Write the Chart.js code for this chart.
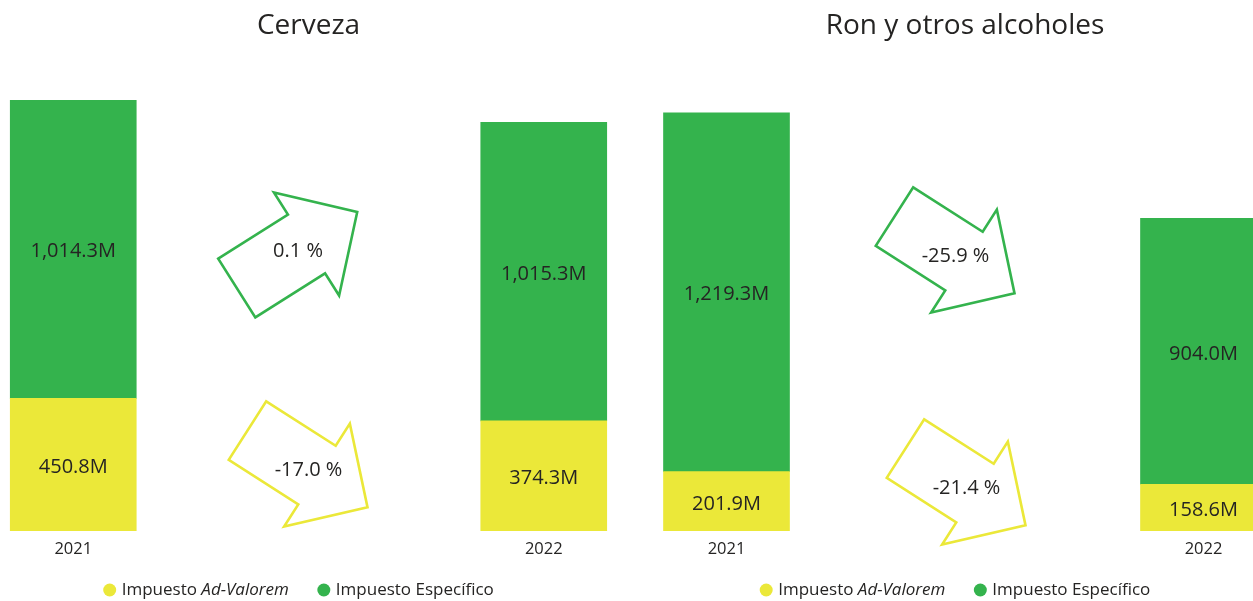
<!DOCTYPE html>
<html>
<head>
<meta charset="utf-8">
<script src="https://cdn.jsdelivr.net/npm/chart.js@4"></script>
<style>
  html, body { margin: 0; padding: 0; overflow: hidden; background: #ffffff; width: 1253px; height: 601px; }
  .panel { position: absolute; top: 0; height: 601px; }
</style>
</head>
<body>
<div class="panel" style="left:-162px;width:941px"><canvas id="c1"></canvas></div>
<div class="panel" style="left:488px;width:954px"><canvas id="c2"></canvas></div>
<script>
// ---------- data ----------
const years = ['2021', '2022'];
const panelTitles = ['Cerveza', 'Ron y otros alcoholes'];
const seriesNames = ['Impuesto Ad-Valorem', 'Impuesto Específico'];
const cervezaAdValorem = [450.8, 374.3];
const cervezaEspecifico = [1014.3, 1015.3];
const ronAdValorem = [201.9, 158.6];
const ronEspecifico = [1219.3, 904.0];
// year-over-year change (%) per series: [Ad-Valorem, Específico]
const cervezaChange = [-17.0, 0.1];
const ronChange = [-21.4, -25.9];

// ---------- style / layout ----------
const FONT = "'Segoe UI', 'Open Sans', sans-serif";
const TEXT = '#252423';
const seriesColors = ['#EBE839', '#34B34D'];
const italicAfterFirstWord = [true, false];
const arrowLayout = [
  [ { series: 1, dx: -11.5, cy: 250 }, { series: 0, dx: -1, cy: 469 } ],
  [ { series: 1, dx: -10.5, cy: 255 }, { series: 0, dx: 0.5, cy: 487 } ]
];

const allTotals = [0, 1].map(i => cervezaAdValorem[i] + cervezaEspecifico[i])
  .concat([0, 1].map(i => ronAdValorem[i] + ronEspecifico[i]));
const yMax = Math.max(...allTotals);

const fmtM = v => v.toLocaleString('en-US', { minimumFractionDigits: 1, maximumFractionDigits: 1 }) + 'M';
const fmtPct = v => v.toFixed(1) + ' %';

function arrowPath(ctx, cx, cy, angleDeg) {
  const L = 142.5, headL = 60, shaftHW = 34.75, headHW = 61;
  const h = L / 2, b = h - headL;
  const pts = [[-h, -shaftHW], [b, -shaftHW], [b, -headHW], [h, 0], [b, headHW], [b, shaftHW], [-h, shaftHW]];
  const a = angleDeg * Math.PI / 180, c = Math.cos(a), s = Math.sin(a);
  ctx.beginPath();
  pts.forEach(([u, v], i) => {
    const x = cx + u * c - v * s, y = cy + u * s + v * c;
    if (i === 0) ctx.moveTo(x, y); else ctx.lineTo(x, y);
  });
  ctx.closePath();
}

const decorPlugin = {
  id: 'decor',
  afterDatasetsDraw(chart, args, opts) {
    const ctx = chart.ctx;
    const area = chart.chartArea;
    const midX = (area.left + area.right) / 2;
    ctx.save();
    // data labels
    ctx.font = `20px ${FONT}`;
    ctx.fillStyle = TEXT;
    ctx.textAlign = 'center';
    ctx.textBaseline = 'middle';
    chart.data.datasets.forEach((ds, di) => {
      chart.getDatasetMeta(di).data.forEach((bar, i) => {
        const p = bar.getProps(['x', 'y', 'base'], true);
        ctx.fillText(fmtM(ds.data[i]), p.x, (p.y + p.base) / 2 + 2.5);
      });
    });
    // arrows with change labels
    opts.arrows.forEach(ar => {
      const change = opts.changes[ar.series];
      const cx = midX + ar.dx, cy = ar.cy;
      ctx.lineWidth = 2.6;
      ctx.lineJoin = 'miter';
      ctx.strokeStyle = seriesColors[ar.series];
      arrowPath(ctx, cx, cy, change >= 0 ? -32.3 : 32.6);
      ctx.stroke();
      ctx.fillStyle = TEXT;
      ctx.font = `20px ${FONT}`;
      ctx.fillText(fmtPct(change), cx + 1, cy + 1);
    });
    // legend
    const ly = 590, r = 6.5, gapText = 12, gapItem = 35, fs = 17;
    const items = seriesNames.map((name, i) => {
      const sp = name.indexOf(' ');
      const parts = italicAfterFirstWord[i]
        ? [{ t: name.slice(0, sp + 1), it: false }, { t: name.slice(sp + 1), it: true }]
        : [{ t: name, it: false }];
      let w = 0;
      parts.forEach(pt => { ctx.font = `${pt.it ? 'italic ' : ''}${fs}px ${FONT}`; pt.w = ctx.measureText(pt.t).width; w += pt.w; });
      return { parts, w, color: seriesColors[i] };
    });
    let total = 0;
    items.forEach((it, i) => { total += r + gapText + it.w + (i < items.length - 1 ? gapItem - r : 0); });
    let x = midX - 10 - total / 2;
    ctx.textAlign = 'left';
    items.forEach(it => {
      ctx.beginPath();
      ctx.fillStyle = it.color;
      ctx.arc(x + r, ly, r, 0, Math.PI * 2);
      ctx.fill();
      let tx = x + r + gapText;
      ctx.fillStyle = TEXT;
      it.parts.forEach(pt => {
        ctx.font = `${pt.it ? 'italic ' : ''}${fs}px ${FONT}`;
        ctx.fillText(pt.t, tx, ly);
        tx += pt.w;
      });
      x = tx + gapItem - r;
    });
    ctx.restore();
  }
};

function makeChart(id, title, adv, esp, changes, arrows) {
  return new Chart(document.getElementById(id), {
    type: 'bar',
    data: {
      labels: years,
      datasets: [
        { label: seriesNames[0], data: adv, backgroundColor: seriesColors[0], barThickness: 126 },
        { label: seriesNames[1], data: esp, backgroundColor: seriesColors[1], barThickness: 126 }
      ]
    },
    options: {
      responsive: true,
      maintainAspectRatio: false,
      animation: false,
      layout: { padding: { left: 0, right: 0, top: 0, bottom: 33.2 } },
      plugins: {
        legend: { display: false },
        tooltip: { enabled: false },
        title: {
          display: true, text: title, color: TEXT,
          font: { family: FONT, size: 28, weight: 'normal' },
          padding: { top: 9, bottom: 57.4 }
        },
        decor: { changes, arrows }
      },
      scales: {
        x: {
          stacked: true,
          grid: { display: false, drawTicks: false },
          border: { display: false },
          ticks: { color: TEXT, font: { family: FONT, size: 16.5 }, padding: 8.5 }
        },
        y: { stacked: true, display: false, min: 0, max: yMax }
      }
    },
    plugins: [decorPlugin]
  });
}

makeChart('c1', panelTitles[0], cervezaAdValorem, cervezaEspecifico, cervezaChange, arrowLayout[0]);
makeChart('c2', panelTitles[1], ronAdValorem, ronEspecifico, ronChange, arrowLayout[1]);
</script>
</body>
</html>
